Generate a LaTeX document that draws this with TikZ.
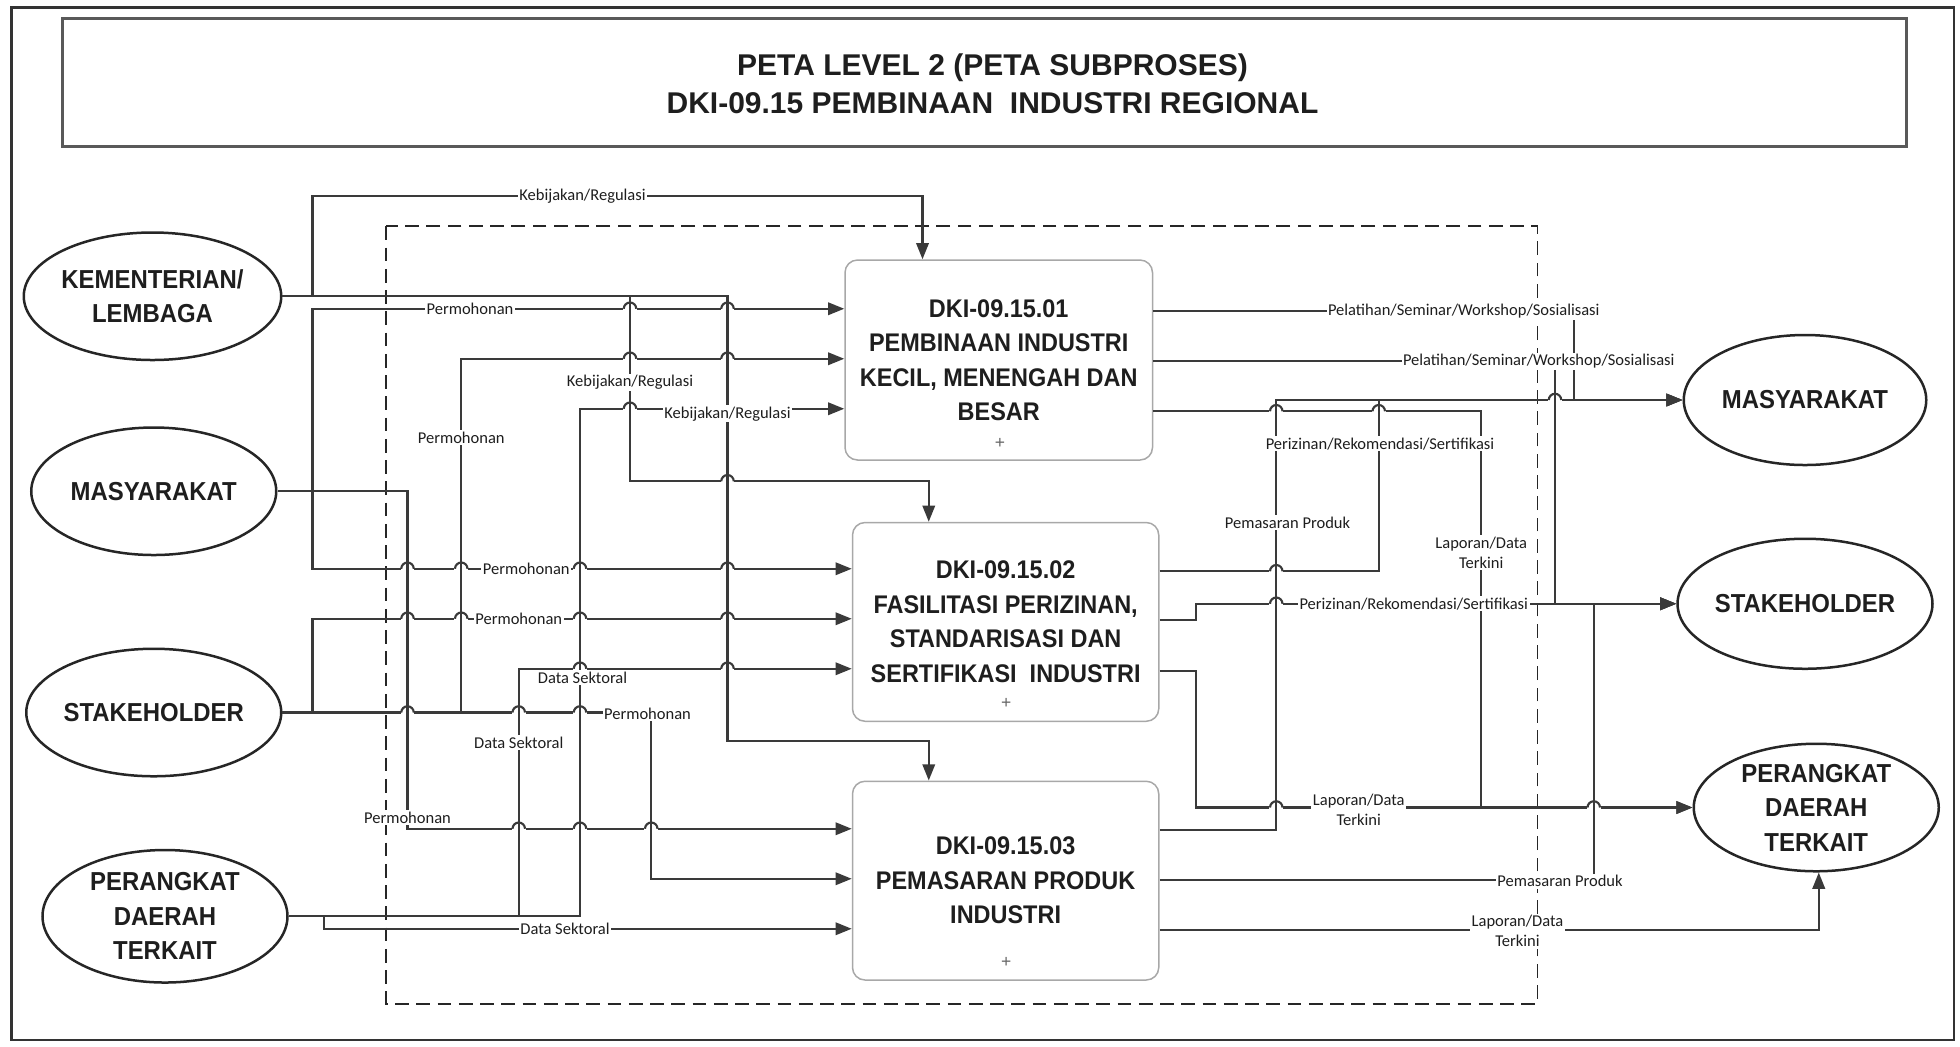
\documentclass[tikz,border=0pt]{standalone}
\usepackage{fontspec}
\setmainfont{Liberation Sans}
\newfontfamily\lblfont{Carlito}
\newfontfamily\condfont[FakeStretch=0.92]{Liberation Sans}
\usetikzlibrary{shapes.geometric,arrows.meta}
\definecolor{lc}{HTML}{3A3A3A}
\definecolor{tc}{HTML}{1E1E1E}
\definecolor{bc}{HTML}{A8A8A8}
\newcommand\hopat[2]{%
  \fill[white] ({#1-5.5},{#2-2.4}) rectangle ({#1+5.5},{#2+2.4});
  \draw[conn] ({#1},{#2-8}) -- ({#1},{#2+8});
  \draw[conn] ({#1-5},{#2}) arc[start angle=180,end angle=0,radius=2.5pt];
}
\begin{document}
\begin{tikzpicture}[x=0.5pt,y=-0.5pt,
  conn/.style={draw=lc,line width=0.85pt},
  arr/.style={conn,-{Triangle[length=6.5pt,width=5pt]},fill=none},
  ent/.style={ellipse,draw=black!85,line width=1pt,inner sep=0pt,align=center,text=tc,
    font=\condfont\bfseries\fontsize{10.4}{13.8}\selectfont},
  proc/.style={rectangle,rounded corners=5pt,draw=bc,line width=0.6pt,align=center,text=tc,
    font=\condfont\bfseries\fontsize{10.2}{13.8}\selectfont},
  lbl/.style={fill=white,inner sep=0.6pt,text=tc,font=\lblfont\fontsize{6.6}{8}\selectfont,align=center},
  submark/.style={text=black!60,font=\fontsize{7}{7}\selectfont,inner sep=0pt}
]
\useasboundingbox (0,0) rectangle (1568,837);
% frame and title
\draw[line width=1pt,black!80] (9,6) rectangle (1563,832);
\draw[line width=1.1pt,black!65] (50,15) rectangle (1525,117);
\node[font=\bfseries\fontsize{12}{15.5}\selectfont,align=center,text=tc] (title) at (794,67)
  {PETA LEVEL 2 (PETA SUBPROSES)\\DKI-09.15 PEMBINAAN\ \ INDUSTRI REGIONAL};
% boundary
\draw[black!85,line width=0.7pt,dash pattern=on 5.5pt off 3pt] (309,181) rectangle (1230,803);

% entities
\node[ent,minimum width=99pt,minimum height=51pt] (kem) at (122,237) {KEMENTERIAN/\\LEMBAGA};
\node[ent,minimum width=98pt,minimum height=51pt] (masL) at (123,393) {MASYARAKAT};
\node[ent,minimum width=98pt,minimum height=51pt] (stkL) at (123,570) {STAKEHOLDER};
\node[ent,minimum width=98pt,minimum height=53pt] (perL) at (132,733) {PERANGKAT\\DAERAH\\TERKAIT};
\node[ent,minimum width=97pt,minimum height=52pt] (masR) at (1444,320) {MASYARAKAT};
\node[ent,minimum width=97pt,minimum height=52pt] (stkR) at (1444,483) {STAKEHOLDER};
\node[ent,minimum width=98pt,minimum height=51pt] (perR) at (1453,646) {PERANGKAT\\DAERAH\\TERKAIT};

% processes
\node[proc,minimum width=123pt,minimum height=80pt] (b1) at (799,288)
  {DKI-09.15.01\\PEMBINAAN INDUSTRI\\KECIL, MENENGAH DAN\\BESAR};
\node[proc,minimum width=122.5pt,minimum height=79.5pt] (b2) at (804.5,497.5)
  {DKI-09.15.02\\FASILITASI PERIZINAN,\\STANDARISASI DAN\\SERTIFIKASI\ \ INDUSTRI};
\node[proc,minimum width=122.5pt,minimum height=79.5pt] (b3) at (804.5,704.5)
  {DKI-09.15.03\\PEMASARAN PRODUK\\INDUSTRI};
\node[submark] (m1) at (800,355) {+};
\node[submark] (m2) at (805,563) {+};
\node[submark] (m3) at (805,770) {+};

% left connectors
\draw[arr] (kem.east) -| (250,157) -- (738,157) -- (b1.north -| 738,0);
\draw[arr] (kem.east) -- (504,237) -- (504,385) -- (743,385) -- (b2.north -| 743,0);
\draw[arr] (kem.east) -- (582,237) -- (582,593) -- (743,593) -- (b3.north -| 743,0);
\draw[arr] (masL.east) -- (250,393) -- (250,247) -- (b1.west |- 0,247);
\draw[arr] (masL.east) -- (250,393) -- (250,455) -- (b2.west |- 0,455);
\draw[arr] (masL.east) -- (326,393) -- (326,663) -- (b3.west |- 0,663);
\draw[arr] (stkL.east) -- (250,570) -- (250,495) -- (b2.west |- 0,495);
\draw[arr] (stkL.east) -- (369,570) -- (369,287) -- (b1.west |- 0,287);
\draw[arr] (stkL.east) -- (521,570) -- (521,703) -- (b3.west |- 0,703);
\draw[arr] (perL.east) -- (464,733) -- (464,327) -- (b1.west |- 0,327);
\draw[arr] (perL.east) -- (415,733) -- (415,535) -- (b2.west |- 0,535);
\draw[arr] (perL.east) -- (259,733) -- (259,743) -- (b3.west |- 0,743);

% right connectors
\draw[arr] (b1.east |- 0,249) -- (1259,249) -- (1259,320) -- (masR.west);
\draw[arr] (b1.east |- 0,289) -- (1244,289) -- (1244,483) -- (stkR.west);
\draw[arr] (b1.east |- 0,329) -- (1185,329) -- (1185,646) -- (perR.west);
\draw[arr] (b2.east |- 0,457) -- (1103,457) -- (1103,320) -- (masR.west);
\draw[arr] (b2.east |- 0,496) -- (957,496) -- (957,483) -- (stkR.west);
\draw[arr] (b2.east |- 0,537) -- (957,537) -- (957,646) -- (perR.west);
\draw[arr] (b3.east |- 0,664) -- (1021,664) -- (1021,320) -- (masR.west);
\draw[arr] (b3.east |- 0,704) -- (1275,704) -- (1275,483) -- (stkR.west);
\draw[arr] (b3.east |- 0,744) -- (1455,744) -- (perR.south -| 1455,0);

% line hops
\foreach \hx/\hy in {504/247,582/247,504/287,582/287,504/327,582/385,
  326/455,369/455,464/455,582/455,326/495,369/495,464/495,582/495,
  464/535,582/535,326/570,415/570,464/570,415/663,464/663,521/663,
  1021/329,1103/329,1244/320,1021/457,1021/483,1021/646,1275/646}
  {\hopat{\hx}{\hy}}

% labels
\node[lbl] (l1) at (466,157) {Kebijakan/Regulasi};
\node[lbl] (l2) at (504,306) {Kebijakan/Regulasi};
\node[lbl] (l3) at (582,331) {Kebijakan/Regulasi};
\node[lbl] (l4) at (376,247) {Permohonan};
\node[lbl] (l5) at (369,350) {Permohonan};
\node[lbl] (l6) at (421,455) {Permohonan};
\node[lbl] (l7) at (415,495) {Permohonan};
\node[lbl] (l8) at (466,542) {Data Sektoral};
\node[lbl] (l9) at (415,594) {Data Sektoral};
\node[lbl] (l10) at (518,571) {Permohonan};
\node[lbl] (l11) at (326,654) {Permohonan};
\node[lbl] (l12) at (452,743) {Data Sektoral};
\node[lbl] (r1) at (1171,249) {Pelatihan/Seminar/Workshop/Sosialisasi};
\node[lbl] (r2) at (1231,289) {Pelatihan/Seminar/Workshop/Sosialisasi};
\node[lbl] (r3) at (1104,355) {Perizinan/Rekomendasi/Sertifikasi};
\node[lbl] (r4) at (1030,418) {Pemasaran Produk};
\node[lbl] (r5) at (1185,442) {Laporan/Data\\Terkini};
\node[lbl] (r6) at (1131,483) {Perizinan/Rekomendasi/Sertifikasi};
\node[lbl] (r7) at (1087,648) {Laporan/Data\\Terkini};
\node[lbl] (r8) at (1248,705) {Pemasaran Produk};
\node[lbl] (r9) at (1214,745) {Laporan/Data\\Terkini};
\end{tikzpicture}
\end{document}
